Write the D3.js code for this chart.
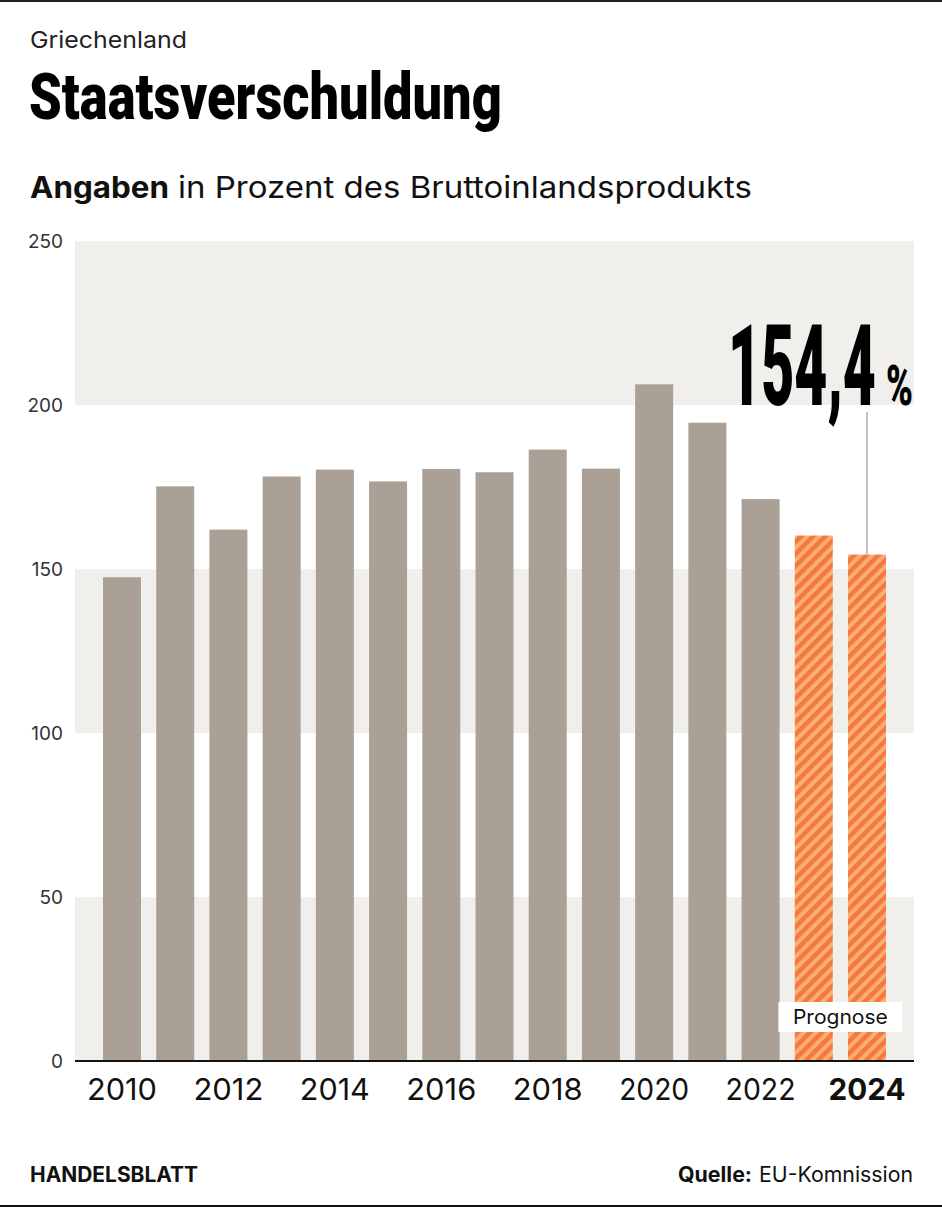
<!DOCTYPE html>
<html><head><meta charset="utf-8">
<script src="https://cdn.jsdelivr.net/npm/d3@7"></script>
<style>
html,body{margin:0;padding:0;background:#fff;}
svg{display:block;font-family:"Inter","Roboto",sans-serif;}
</style></head>
<body><div id="chart"></div>
<script>
const years = [2010,2011,2012,2013,2014,2015,2016,2017,2018,2019,2020,2021,2022,2023,2024];
const values = [147.5,175.2,162.0,178.2,180.3,176.7,180.5,179.5,186.4,180.6,206.3,194.6,171.3,160.2,154.4];
const forecastYears = [2023,2024];
const yTicks = [0,50,100,150,200,250];
const xTickYears = [2010,2012,2014,2016,2018,2020,2022,2024];
const highlightLabel = "154,4";

const W = 942, H = 1208;
const svg = d3.select("#chart").append("svg").attr("width", W).attr("height", H);

const defs = svg.append("defs");
const pat = defs.append("pattern").attr("id","hatch").attr("patternUnits","userSpaceOnUse")
  .attr("width",8.5).attr("height",8.5).attr("patternTransform","rotate(45)");
pat.append("rect").attr("width",8.5).attr("height",8.5).attr("fill","#fbae78");
pat.append("rect").attr("width",4.5).attr("height",8.5).attr("fill","#f5793a");

// frame lines
svg.append("rect").attr("x",0).attr("y",0).attr("width",W).attr("height",2).attr("fill","#222");
svg.append("rect").attr("x",0).attr("y",H-3).attr("width",W).attr("height",2).attr("fill","#111");

const x0 = 75, x1 = 914, yTop = 241, yBot = 1061;
const x = d3.scaleBand().domain(years).range([x0,x1]).paddingInner(0.286).paddingOuter(0.526);
const y = d3.scaleLinear().domain([0,250]).range([yBot,yTop]);

// bands
for (let i=0;i<yTicks.length-1;i++){
  if (i%2===0){
    svg.append("rect").attr("x",x0).attr("width",x1-x0)
      .attr("y",y(yTicks[i+1])).attr("height",y(yTicks[i])-y(yTicks[i+1]))
      .attr("fill","#f0efec");
  }
}

// y tick labels
svg.append("g").selectAll("text").data(yTicks).join("text")
  .attr("x",63).attr("y",d=>y(d)).attr("dy","0.35em").attr("text-anchor","end")
  .attr("font-size",19).attr("fill","#333").text(d=>d);

// bars
svg.append("g").selectAll("rect").data(years).join("rect")
  .attr("x",d=>x(d)).attr("width",x.bandwidth())
  .attr("y",(d,i)=>y(values[i])).attr("height",(d,i)=>yBot-y(values[i]))
  .attr("fill",d=>forecastYears.includes(d)?"url(#hatch)":"#aba095");

// axis line
svg.append("rect").attr("x",x0).attr("y",yBot-1).attr("width",x1-x0).attr("height",2).attr("fill","#111");

// x labels
svg.append("g").selectAll("text").data(xTickYears).join("text")
  .attr("x",d=>x(d)+x.bandwidth()/2).attr("y",1100).attr("text-anchor","middle")
  .attr("font-size",30).attr("fill","#111")
  .attr("textLength",d=>d===2024?77:70).attr("lengthAdjust","spacingAndGlyphs")
  .attr("font-weight",d=>d===2024?700:400).text(d=>d);

// Prognose box
const pCx = (x(2023)+x(2024)+x.bandwidth())/2;
svg.append("rect").attr("x",pCx-62).attr("y",1002).attr("width",124).attr("height",30).attr("fill","#fff");
svg.append("text").attr("x",pCx).attr("y",1024).attr("text-anchor","middle")
  .attr("font-size",20).attr("textLength",95).attr("lengthAdjust","spacingAndGlyphs")
  .attr("fill","#111").text("Prognose");

// leader line
const lastIdx = years.length-1;
const lx = x(years[lastIdx])+x.bandwidth()/2;
svg.append("line").attr("x1",lx).attr("x2",lx).attr("y1",412).attr("y2",y(values[lastIdx]))
  .attr("stroke","#c4c4c4").attr("stroke-width",2);

// condensed text helper: scale horizontally to a target width
function condensed(px, py, txt, size, targetW){
  const g = svg.append("g");
  const t = g.append("text").attr("font-family","Roboto, sans-serif")
    .attr("font-weight",900).attr("font-size",size).attr("fill","#000").text(txt);
  const w = t.node().getComputedTextLength();
  g.attr("transform",`translate(${px},${py}) scale(${targetW/w},1)`);
  return t;
}
condensed(728, y(200), highlightLabel, 114, 148);
condensed(886, y(200), "%", 56, 27);

// titles
svg.append("text").attr("x",30).attr("y",48).attr("font-size",23).attr("fill","#222")
  .attr("textLength",157).attr("lengthAdjust","spacingAndGlyphs").text("Griechenland");
condensed(29, 119, "Staatsverschuldung", 64, 473);
const sub = svg.append("text").attr("x",30).attr("y",198).attr("font-size",30).attr("fill","#111");
sub.append("tspan").attr("font-weight",700).attr("textLength",139).attr("lengthAdjust","spacingAndGlyphs").text("Angaben");
sub.append("tspan").attr("x",178).attr("textLength",574).attr("lengthAdjust","spacingAndGlyphs").text("in Prozent des Bruttoinlandsprodukts");

// footer
svg.append("text").attr("x",30).attr("y",1182).attr("font-size",21).attr("font-weight",700).attr("fill","#111")
  .attr("textLength",168).attr("lengthAdjust","spacingAndGlyphs").text("HANDELSBLATT");
const q = svg.append("text").attr("y",1182).attr("font-size",21).attr("fill","#111");
q.append("tspan").attr("x",678).attr("font-weight",700).attr("textLength",74).attr("lengthAdjust","spacingAndGlyphs").text("Quelle:");
q.append("tspan").attr("x",759).attr("textLength",154).attr("lengthAdjust","spacingAndGlyphs").text("EU-Komnission");
</script></body></html>
